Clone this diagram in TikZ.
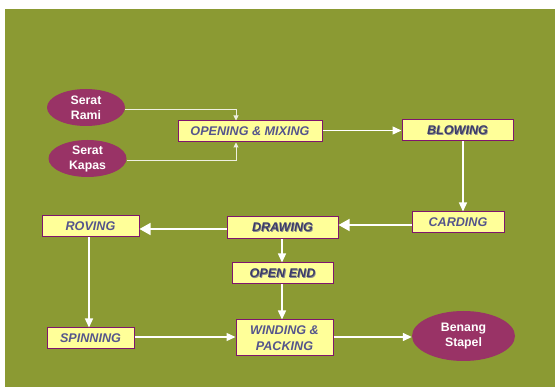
\documentclass[tikz,border=0pt]{standalone}
\usepackage{fontspec}
\setmainfont{Liberation Sans}
\usetikzlibrary{arrows.meta,shapes.geometric}
\definecolor{bggreen}{RGB}{139,154,51}
\definecolor{boxfill}{RGB}{255,255,153}
\definecolor{boxline}{RGB}{128,20,110}
\definecolor{ellfill}{RGB}{153,51,102}
\definecolor{txtblue}{RGB}{85,85,140}
\definecolor{txtdark}{RGB}{60,60,105}
\newcommand{\shtxt}[1]{\makebox[0pt][l]{\hspace{0.8pt}\raisebox{-0.8pt}{\color{black!45}#1}}{\color{txtdark}#1}}
\begin{document}
\begin{tikzpicture}[x=1pt,y=-1pt,
  procbox/.style={draw=boxline,line width=1pt,fill=boxfill,inner sep=0pt,
    font=\fontsize{12.6}{15.5}\selectfont\bfseries\itshape,text=txtblue,align=center},
  fibre/.style={ellipse,fill=ellfill,draw=none,inner sep=0pt,
    font=\fontsize{12.3}{15}\selectfont\bfseries,text=white,align=center},
  flow/.style={draw=white,line width=1.4pt,-{Triangle[length=9pt,width=8pt]}},
  bigflow/.style={draw=white,line width=1.4pt,-{Triangle[length=11pt,width=12pt]}},
  thinflow/.style={draw=white!85!bggreen,line width=1pt,-{Triangle[length=5pt,width=5pt]}}]
\useasboundingbox (0,0) rectangle (555,387);
\fill[white] (0,0) rectangle (555,387);
\fill[bggreen] (5,9) rectangle (555,387);

\node[fibre,minimum width=78pt,minimum height=37pt] (rami) at (86,107.5) {Serat\\Rami};
\node[fibre,minimum width=78pt,minimum height=37pt] (kapas) at (87.5,158.5) {Serat\\Kapas};
\node[procbox,minimum width=144pt,minimum height=21pt] (open) at (250,131.5) {OPENING \& MIXING};
\node[procbox,minimum width=111pt,minimum height=21pt] (blow) at (457.5,130.5) {\shtxt{BLOWING}};
\node[procbox,minimum width=92pt,minimum height=21pt] (card) at (458,222.5) {CARDING};
\node[procbox,minimum width=111pt,minimum height=22pt] (draw) at (282.5,228) {\shtxt{DRAWING}};
\node[procbox,minimum width=97pt,minimum height=21pt] (rov) at (90.5,226.5) {ROVING};
\node[procbox,minimum width=101pt,minimum height=21pt] (oe) at (282.5,273.5) {\shtxt{OPEN END}};
\node[procbox,minimum width=87pt,minimum height=21pt] (spin) at (90.5,338.5) {SPINNING};
\node[procbox,minimum width=97pt,minimum height=36pt] (wind) at (284.5,338) {WINDING \&\\PACKING};
\node[fibre,minimum width=103pt,minimum height=50pt] (benang) at (463.5,336) {Benang\\Stapel};

\coordinate (ramiR) at (rami.east |- 0,109.5);
\coordinate (kapasR) at (kapas.east |- 0,161);
\draw[thinflow] (ramiR) -| (open.north -| 236,0);
\draw[thinflow] (kapasR) -| (open.south -| 236,0);
\draw[flow] (open.east |- 0,130.5) -- (blow.west |- 0,130.5);
\draw[flow] (blow.south -| 463,0) -- (card.north -| 463,0);
\draw[bigflow] (card.west |- 0,225) -- (draw.east |- 0,225);
\draw[bigflow] (draw.west |- 0,229) -- (rov.east |- 0,229);
\draw[flow] (rov.south -| 89,0) -- (spin.north -| 89,0);
\draw[flow] (draw.south -| 282,0) -- (oe.north -| 282,0);
\draw[flow] (oe.south -| 282,0) -- (wind.north -| 282,0);
\draw[flow] (spin.east |- 0,337) -- (wind.west |- 0,337);
\draw[flow] (wind.east |- 0,337) -- (benang.west |- 0,337);
\end{tikzpicture}
\end{document}
